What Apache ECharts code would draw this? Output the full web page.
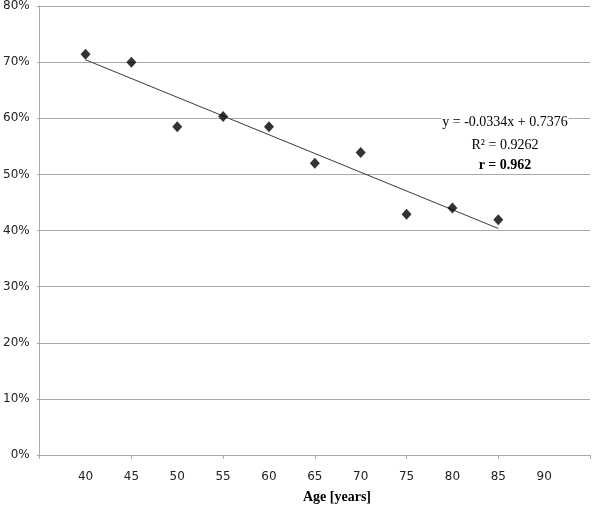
<!DOCTYPE html>
<html>
<head>
<meta charset="utf-8">
<script src="https://cdn.jsdelivr.net/npm/echarts@6/dist/echarts.min.js"></script>
<style>
html,body{margin:0;padding:0;background:#fff;}
#chart{width:600px;height:508px;}
</style>
</head>
<body>
<div id="chart"></div>
<script>
// Data
const ageLabels = ['40', '45', '50', '55', '60', '65', '70', '75', '80', '85', '90'];
const positions = [1, 2, 3, 4, 5, 6, 7, 8, 9, 10];
const values = [0.714, 0.700, 0.585, 0.603, 0.585, 0.520, 0.539, 0.429, 0.440, 0.419];
const trendSlope = -0.0334;
const trendIntercept = 0.7376;
const trendRange = [1, 10];
const yTicks = ['0%', '10%', '20%', '30%', '40%', '50%', '60%', '70%', '80%'];
const annotationLines = ['y = -0.0334x + 0.7376', 'R² = 0.9262', 'r = 0.962'];

const chart = echarts.init(document.getElementById('chart'), null, {renderer: 'canvas'});

const scatterData = positions.map((p, i) => [p, values[i]]);
const trendData = trendRange.map(x => [x, trendIntercept + trendSlope * x]);

const gridColor = '#a9a9a9';
const labelFont = 'DejaVu Sans';

const option = {
  animation: false,
  backgroundColor: '#ffffff',
  grid: {left: 37, right: 10, top: 5, bottom: 53, containLabel: false},
  xAxis: [
    {
      type: 'value', min: 0, max: 12, interval: 2,
      axisLine: {show: true, lineStyle: {color: gridColor, width: 1}},
      axisTick: {show: true, length: 4, lineStyle: {color: gridColor}},
      axisLabel: {show: false},
      splitLine: {show: false}
    },
    {
      type: 'value', min: 0, max: 12, interval: 1, position: 'bottom',
      axisLine: {show: false},
      axisTick: {show: false},
      splitLine: {show: false},
      axisLabel: {
        show: true, margin: 16,
        fontFamily: labelFont, fontSize: 12, color: '#222',
        formatter: v => (v >= 1 && v <= ageLabels.length) ? ageLabels[v - 1] : ''
      }
    }
  ],
  yAxis: {
    type: 'value', min: 0, max: 0.8, interval: 0.1,
    axisLine: {show: true, lineStyle: {color: gridColor, width: 1}},
    axisTick: {show: true, length: 3, lineStyle: {color: gridColor}},
    splitLine: {show: true, lineStyle: {color: gridColor, width: 1}},
    axisLabel: {
      margin: 10, fontFamily: labelFont, fontSize: 12, color: '#222',
      formatter: v => yTicks[Math.round(v * 10)]
    }
  },
  series: [
    {
      type: 'line', xAxisIndex: 0, data: trendData, symbol: 'none',
      lineStyle: {color: '#3a3a3a', width: 1}, z: 2, silent: true
    },
    {
      type: 'scatter', xAxisIndex: 0, data: scatterData,
      symbol: 'diamond', symbolSize: [10, 11],
      itemStyle: {color: '#000'}, z: 3
    }
  ],
  graphic: [
    {
      type: 'text', x: 505, y: 122, z: 10,
      style: {
        text: annotationLines[0], font: '14px "Liberation Serif"', fill: '#000',
        align: 'center', verticalAlign: 'middle',
        backgroundColor: '#fff', padding: [1, 1, 1, 1]
      }
    },
    {
      type: 'text', x: 505, y: 145, z: 10,
      style: {
        text: annotationLines[1], font: '14px "Liberation Serif"', fill: '#000',
        align: 'center', verticalAlign: 'middle'
      }
    },
    {
      type: 'text', x: 505, y: 165, z: 10,
      style: {
        text: annotationLines[2], font: 'bold 14px "Liberation Serif"', fill: '#000',
        align: 'center', verticalAlign: 'middle'
      }
    },
    {
      type: 'text', x: 337, y: 497, z: 10,
      style: {
        text: 'Age [years]', font: 'bold 14px "Liberation Serif"', fill: '#000',
        align: 'center', verticalAlign: 'middle'
      }
    }
  ]
};
chart.setOption(option);
</script>
</body>
</html>
